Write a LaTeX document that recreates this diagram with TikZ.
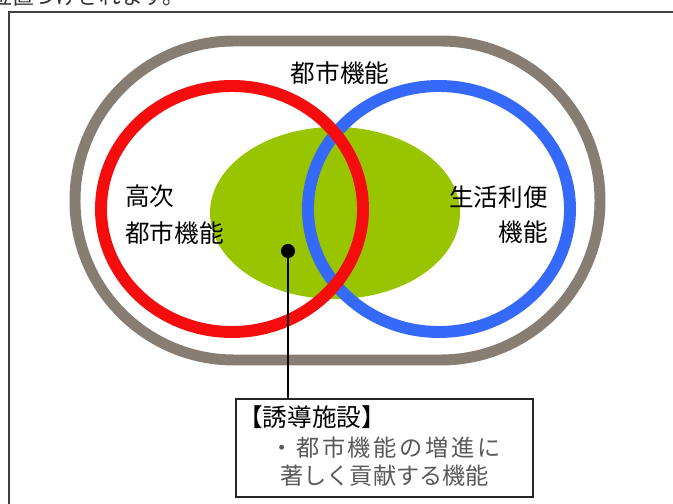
\documentclass[tikz,border=0pt]{standalone}
\usepackage{fontspec}
\setmainfont{Noto Sans CJK JP}
\definecolor{ringgray}{RGB}{135,125,115}
\definecolor{ringred}{RGB}{245,12,12}
\definecolor{ringblue}{RGB}{52,105,250}
\definecolor{leafgreen}{RGB}{153,196,0}

\begin{document}
\begin{tikzpicture}[x=0.025cm,y=-0.025cm,
  ring/.style={line width=8.5pt},
  lbl/.style={font=\fontsize{17.5}{21}\selectfont, inner sep=0pt},
  boxtxt/.style={font=\fontsize{16.5}{19}\selectfont, inner sep=0pt, anchor=west}]
\useasboundingbox (0,0) rectangle (673,504);
\begin{scope}
\clip (0,0) rectangle (673,504);
\node[anchor=base west, inner sep=0pt, font=\fontsize{15.5}{18}\selectfont, text=black!80] (intro) at (-10,5) {位置づけされます。};
\end{scope}
\draw[line width=1.1pt, black!75] (9,504) -- (9,12) -- (673,12);
\draw[ringgray, line width=7.8pt, rounded corners=3.98cm] (75,41) rectangle (600,360);
\fill[leafgreen] (335,213) ellipse[x radius=125, y radius=86];
\draw[ring, ringblue] (439,209) ellipse[x radius=131, y radius=123];
\draw[ring, ringred] (232,209) ellipse[x radius=131, y radius=123];
\node[lbl] (toshi) at (340,73) {都市機能};
\node[lbl, anchor=west] (koji) at (125,196) {高次};
\node[lbl, anchor=west] (kojitoshi) at (125,233) {都市機能};
\node[lbl, anchor=east] (seikatsu) at (548,197) {生活利便};
\node[lbl, anchor=east] (seikatsukino) at (548,232) {機能};
\node[circle, fill=black, inner sep=0pt, minimum size=0.35cm] (dot) at (288,251) {};
\node[draw=black!85, line width=1.1pt, minimum width=7.425cm, minimum height=2.45cm, inner sep=0pt] (box) at (384.5,448) {};
\draw[line width=1.3pt] (dot) -- (dot |- box.north);
\node[boxtxt, font=\fontsize{17.5}{20}\selectfont] (yudo) at (238,417) {【誘導施設】};
\node[boxtxt, text=black!65, font=\fontsize{16.5}{19}\selectfont\addfontfeature{LetterSpace=11.5}] (zoshin) at (270,448) {・都市機能の増進に};
\node[boxtxt, text=black!65] (koken) at (280,476) {著しく貢献する機能};
\end{tikzpicture}
\end{document}
